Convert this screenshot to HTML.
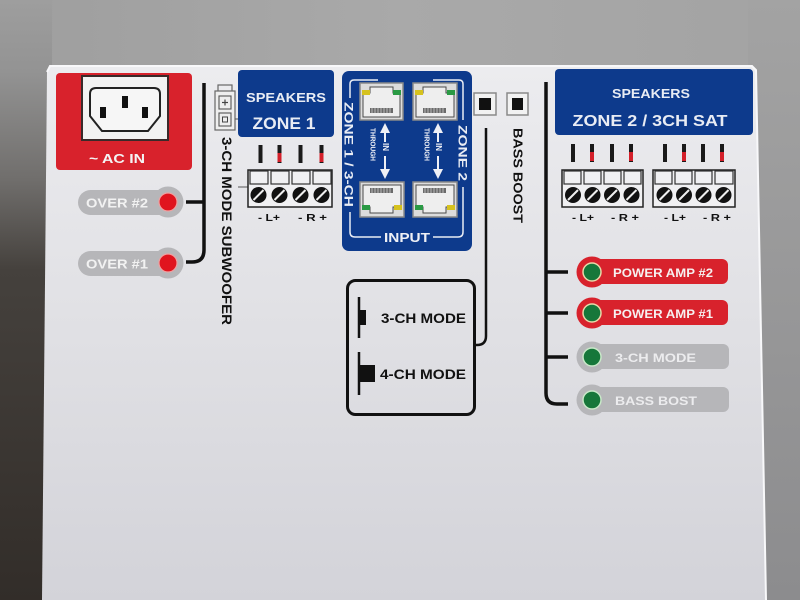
<!DOCTYPE html>
<html><head><meta charset="utf-8"><style>html,body{margin:0;padding:0;width:800px;height:600px;overflow:hidden;background:#a4a4a4}svg{display:block}</style></head><body>
<svg width="800" height="600" viewBox="0 0 800 600" xmlns="http://www.w3.org/2000/svg" font-family="'Liberation Sans', Arial, sans-serif" font-weight="bold">
<defs>
<linearGradient id="bgL" x1="0" y1="0" x2="0" y2="1">
<stop offset="0" stop-color="#9e9e9e"/><stop offset="0.12" stop-color="#939393"/><stop offset="0.3" stop-color="#706e6c"/><stop offset="0.45" stop-color="#45413d"/><stop offset="1" stop-color="#322d29"/></linearGradient>
<linearGradient id="bgR" x1="0" y1="0" x2="0" y2="1">
<stop offset="0" stop-color="#a3a3a3"/><stop offset="1" stop-color="#8c8c8e"/></linearGradient>
<linearGradient id="bgT" x1="0" y1="0" x2="1" y2="0">
<stop offset="0" stop-color="#9e9e9e"/><stop offset="0.5" stop-color="#a9a9a9"/><stop offset="1" stop-color="#a3a3a3"/></linearGradient>
<linearGradient id="panel" x1="0" y1="0" x2="0" y2="1">
<stop offset="0" stop-color="#ececef"/><stop offset="0.5" stop-color="#e0e0e4"/><stop offset="1" stop-color="#d3d3d9"/></linearGradient>
</defs>

<rect x="0" y="0" width="800" height="600" fill="url(#bgT)"/>
<rect x="0" y="0" width="52" height="600" fill="url(#bgL)"/>
<rect x="748" y="0" width="52" height="600" fill="url(#bgR)"/>

<!-- panel -->
<polygon points="47,72 50,66 752,66 756,70 766,600 42,600" fill="url(#panel)"/>
<polyline points="47,72 50,66 752,66 756,70 766,600" fill="none" stroke="#f8f8fa" stroke-width="2"/>

<!-- AC IN -->
<rect x="56" y="73" width="136" height="97" rx="4" fill="#d8222c"/>
<rect x="82" y="76" width="86" height="64" fill="#f2f2f2" stroke="#3a2a2a" stroke-width="2"/>
<path d="M96,88 H154 Q160,88 160,94 V116 L148,131 H102 L90,116 V94 Q90,88 96,88 Z" fill="#f6f6f6" stroke="#222" stroke-width="2"/>
<rect x="122" y="96" width="6" height="12" fill="#111"/>
<rect x="100" y="107" width="6" height="11" fill="#111"/>
<rect x="142" y="107" width="6" height="11" fill="#111"/>
<text x="89" y="163" font-size="13" fill="#f4f4f4" textLength="56" lengthAdjust="spacingAndGlyphs">~ AC IN</text>

<!-- left bracket -->
<path d="M204,83 V250 Q204,262 192,262 H186" fill="none" stroke="#111" stroke-width="3.5"/>
<line x1="186" y1="202" x2="204" y2="202" stroke="#111" stroke-width="3.5"/>

<!-- OVER pills -->
<rect x="78" y="190" width="100" height="25" rx="12.5" fill="#b6b6b9"/>
<circle cx="168" cy="202" r="15.5" fill="#b6b6b9"/>
<circle cx="168" cy="202" r="9" fill="#e0141e" stroke="#f0a0a0" stroke-width="1.2"/>
<text x="86" y="207.5" font-size="13" fill="#f2f2f2" textLength="62" lengthAdjust="spacingAndGlyphs">OVER #2</text>
<rect x="78" y="251" width="100" height="25" rx="12.5" fill="#b6b6b9"/>
<circle cx="168" cy="263" r="15.5" fill="#b6b6b9"/>
<circle cx="168" cy="263" r="9" fill="#e0141e" stroke="#f0a0a0" stroke-width="1.2"/>
<text x="86" y="268.5" font-size="13" fill="#f2f2f2" textLength="62" lengthAdjust="spacingAndGlyphs">OVER #1</text>

<!-- small connector icon -->
<rect x="218" y="85" width="14" height="7" fill="none" stroke="#666" stroke-width="1.2"/>
<rect x="215" y="91" width="20" height="39" fill="#eeeeee" stroke="#666" stroke-width="1.2"/>
<rect x="219" y="96" width="12" height="13" fill="none" stroke="#555" stroke-width="1.1"/>
<line x1="222" y1="102.5" x2="228" y2="102.5" stroke="#444" stroke-width="1.2"/>
<line x1="225" y1="99.5" x2="225" y2="105.5" stroke="#444" stroke-width="1.2"/>
<rect x="219" y="113" width="12" height="13" fill="none" stroke="#555" stroke-width="1.1"/>
<rect x="222.5" y="117" width="5" height="5" fill="none" stroke="#444" stroke-width="1"/>
<line x1="235" y1="119" x2="240" y2="119" stroke="#555" stroke-width="1"/>

<!-- 3-CH MODE SUBWOOFER -->
<g transform="translate(227,137) rotate(90)"><text x="0" y="0" dy="0.36em" font-size="13.5" fill="#111" textLength="188" lengthAdjust="spacingAndGlyphs">3-CH MODE SUBWOOFER</text></g>

<!-- Zone 1 box -->
<rect x="238" y="70" width="96" height="67" rx="4" fill="#0d3a8c"/>
<text x="286" y="102" font-size="12.5" fill="#e8ecf4" text-anchor="middle" textLength="80" lengthAdjust="spacingAndGlyphs">SPEAKERS</text>
<text x="284" y="129" font-size="17" fill="#e8ecf4" text-anchor="middle" textLength="63" lengthAdjust="spacingAndGlyphs">ZONE 1</text>

<!-- Zone 1 terminal -->
<g>
<rect x="258.5" y="145" width="4" height="18" fill="#1a1a1a"/>
<rect x="277.5" y="145" width="4" height="18" fill="#1a1a1a"/><rect x="277.5" y="153" width="4" height="9" fill="#d4202a"/>
<rect x="298.5" y="145" width="4" height="18" fill="#1a1a1a"/>
<rect x="319.5" y="145" width="4" height="18" fill="#1a1a1a"/><rect x="319.5" y="153" width="4" height="9" fill="#d4202a"/>
<line x1="238" y1="187" x2="248" y2="187" stroke="#555" stroke-width="1"/>
<rect x="248" y="170" width="84" height="37" fill="#f0f0f2" stroke="#222" stroke-width="1.5"/>
<rect x="250" y="171" width="18" height="13" fill="none" stroke="#333" stroke-width="1.2"/>
<rect x="271" y="171" width="18" height="13" fill="none" stroke="#333" stroke-width="1.2"/>
<rect x="292" y="171" width="18" height="13" fill="none" stroke="#333" stroke-width="1.2"/>
<rect x="313" y="171" width="18" height="13" fill="none" stroke="#333" stroke-width="1.2"/>
<circle cx="258.5" cy="195" r="8" fill="#111"/><line x1="253.5" y1="200" x2="263.5" y2="190" stroke="#eee" stroke-width="2"/>
<circle cx="279.5" cy="195" r="8" fill="#111"/><line x1="274.5" y1="200" x2="284.5" y2="190" stroke="#eee" stroke-width="2"/>
<circle cx="300.5" cy="195" r="8" fill="#111"/><line x1="295.5" y1="200" x2="305.5" y2="190" stroke="#eee" stroke-width="2"/>
<circle cx="321.5" cy="195" r="8" fill="#111"/><line x1="316.5" y1="200" x2="326.5" y2="190" stroke="#eee" stroke-width="2"/>
<text x="258" y="221" font-size="10.5" fill="#111" textLength="22" lengthAdjust="spacingAndGlyphs">- L+</text>
<text x="298" y="221" font-size="10.5" fill="#111" textLength="29" lengthAdjust="spacingAndGlyphs">- R +</text>
</g>

<!-- INPUT box -->
<rect x="342" y="71" width="130" height="180" rx="7" fill="#0d3a8c"/>
<g fill="none" stroke="#e8ecf4" stroke-width="1.5">
<path d="M350,98 V84 Q350,80 354,80 H378"/>
<path d="M433,80 H459 Q463,80 463,84 V120"/>
<path d="M350,212 V232 Q350,237 355,237 H381"/>
<path d="M463,187 V232 Q463,237 458,237 H433"/>
</g>
<g transform="translate(349,102) rotate(90)"><text x="0" y="0" dy="0.36em" font-size="12" fill="#e8ecf4" textLength="105" lengthAdjust="spacingAndGlyphs">ZONE 1 / 3-CH</text></g>
<g transform="translate(463,125) rotate(90)"><text x="0" y="0" dy="0.36em" font-size="12" fill="#e8ecf4" textLength="56" lengthAdjust="spacingAndGlyphs">ZONE 2</text></g>
<text x="407" y="242" font-size="13" fill="#eef0f6" text-anchor="middle" textLength="46" lengthAdjust="spacingAndGlyphs">INPUT</text>

<!-- ports -->
<g transform="translate(360,83)">
<rect x="0" y="0" width="43" height="37" fill="#dcdcdc" stroke="#8a8a8a" stroke-width="1.5"/>
<path d="M3,10 H10 V4 H33 V10 H40 V34 H3 Z" fill="#eeeeee" stroke="#4a4a4a" stroke-width="1"/>
<rect x="2" y="7" width="8" height="5" fill="#d6c21e"/><rect x="33" y="7" width="8" height="5" fill="#2a9a44"/>
<rect x="10" y="25" width="23" height="5" fill="#6a6a6a"/>
<path d="M12,25V30M15,25V30M18,25V30M21,25V30M24,25V30M27,25V30M30,25V30" stroke="#cfcfcf" stroke-width="0.8"/>
</g>
<g transform="translate(413,83)">
<rect x="0" y="0" width="44" height="37" fill="#dcdcdc" stroke="#8a8a8a" stroke-width="1.5"/>
<path d="M3,10 H10 V4 H33 V10 H41 V34 H3 Z" fill="#eeeeee" stroke="#4a4a4a" stroke-width="1"/>
<rect x="2" y="7" width="8" height="5" fill="#d6c21e"/><rect x="34" y="7" width="8" height="5" fill="#2a9a44"/>
<rect x="10" y="25" width="23" height="5" fill="#6a6a6a"/>
<path d="M12,25V30M15,25V30M18,25V30M21,25V30M24,25V30M27,25V30M30,25V30" stroke="#cfcfcf" stroke-width="0.8"/>
</g>
<g transform="translate(360,217) scale(1,-1)">
<rect x="0" y="0" width="44" height="35" fill="#dcdcdc" stroke="#8a8a8a" stroke-width="1.5"/>
<path d="M3,10 H10 V4 H33 V10 H41 V32 H3 Z" fill="#eeeeee" stroke="#4a4a4a" stroke-width="1"/>
<rect x="2" y="7" width="8" height="5" fill="#2a9a44"/><rect x="34" y="7" width="8" height="5" fill="#d6c21e"/>
<rect x="10" y="24" width="23" height="5" fill="#6a6a6a"/>
<path d="M12,24V29M15,24V29M18,24V29M21,24V29M24,24V29M27,24V29M30,24V29" stroke="#cfcfcf" stroke-width="0.8"/>
</g>
<g transform="translate(413,217) scale(1,-1)">
<rect x="0" y="0" width="44" height="35" fill="#dcdcdc" stroke="#8a8a8a" stroke-width="1.5"/>
<path d="M3,10 H10 V4 H33 V10 H41 V32 H3 Z" fill="#eeeeee" stroke="#4a4a4a" stroke-width="1"/>
<rect x="2" y="7" width="8" height="5" fill="#2a9a44"/><rect x="34" y="7" width="8" height="5" fill="#d6c21e"/>
<rect x="10" y="24" width="23" height="5" fill="#6a6a6a"/>
<path d="M12,24V29M15,24V29M18,24V29M21,24V29M24,24V29M27,24V29M30,24V29" stroke="#cfcfcf" stroke-width="0.8"/>
</g>

<!-- arrows -->
<g fill="#eef0f6" stroke="#eef0f6">
<path d="M385,123 L380,133 H390 Z" stroke="none"/>
<line x1="385" y1="132" x2="385" y2="142" stroke-width="2"/>
<line x1="385" y1="156" x2="385" y2="169" stroke-width="2"/>
<path d="M385,179 L380,169 H390 Z" stroke="none"/>
<path d="M438,123 L433,133 H443 Z" stroke="none"/>
<line x1="438" y1="132" x2="438" y2="142" stroke-width="2"/>
<line x1="438" y1="156" x2="438" y2="169" stroke-width="2"/>
<path d="M438,179 L433,169 H443 Z" stroke="none"/>
</g>
<g transform="translate(386,143) rotate(90)"><text x="0" y="0" dy="0.36em" font-size="8" fill="#eef0f6">IN</text></g>
<g transform="translate(373,128) rotate(90)"><text x="0" y="0" dy="0.36em" font-size="7" fill="#eef0f6" textLength="33" lengthAdjust="spacingAndGlyphs">THROUGH</text></g>
<g transform="translate(439,143) rotate(90)"><text x="0" y="0" dy="0.36em" font-size="8" fill="#eef0f6">IN</text></g>
<g transform="translate(427,128) rotate(90)"><text x="0" y="0" dy="0.36em" font-size="7" fill="#eef0f6" textLength="33" lengthAdjust="spacingAndGlyphs">THROUGH</text></g>

<!-- buttons -->
<rect x="474" y="93" width="22" height="22" fill="#f2f2f2" stroke="#8a8a8a" stroke-width="1.5"/>
<rect x="479" y="98" width="12" height="12" fill="#111"/>
<rect x="507" y="93" width="21" height="22" fill="#f2f2f2" stroke="#8a8a8a" stroke-width="1.5"/>
<rect x="512" y="98" width="11" height="12" fill="#111"/>

<!-- bass boost line and text -->
<path d="M486,128 V336 Q486,345 477,345 H474" fill="none" stroke="#111" stroke-width="2.5"/>
<g transform="translate(518,128) rotate(90)"><text x="0" y="0" dy="0.36em" font-size="13" fill="#111" textLength="95" lengthAdjust="spacingAndGlyphs">BASS BOOST</text></g>

<!-- mode box -->
<rect x="347.5" y="280.5" width="127" height="134" rx="8" fill="none" stroke="#111" stroke-width="3"/>
<line x1="359" y1="297" x2="359" y2="338" stroke="#111" stroke-width="2.5"/>
<rect x="359" y="310" width="7" height="15" fill="#111"/>
<text x="381" y="323" font-size="14" fill="#111" textLength="85" lengthAdjust="spacingAndGlyphs">3-CH MODE</text>
<line x1="359" y1="352" x2="359" y2="395" stroke="#111" stroke-width="2.5"/>
<rect x="359" y="365" width="16" height="17" fill="#111"/>
<text x="380" y="379" font-size="14" fill="#111" textLength="86" lengthAdjust="spacingAndGlyphs">4-CH MODE</text>

<!-- right bracket -->
<path d="M546,82 V393 Q546,404 557,404 H568" fill="none" stroke="#111" stroke-width="3.5"/>
<line x1="546" y1="272" x2="568" y2="272" stroke="#111" stroke-width="3.5"/>
<line x1="546" y1="313" x2="568" y2="313" stroke="#111" stroke-width="3.5"/>
<line x1="546" y1="357" x2="568" y2="357" stroke="#111" stroke-width="3.5"/>

<!-- right speakers box -->
<rect x="555" y="69" width="198" height="66" rx="4" fill="#0d3a8c"/>
<text x="651" y="98" font-size="12.5" fill="#e8ecf4" text-anchor="middle" textLength="78" lengthAdjust="spacingAndGlyphs">SPEAKERS</text>
<text x="650" y="126" font-size="16" fill="#e8ecf4" text-anchor="middle" textLength="155" lengthAdjust="spacingAndGlyphs">ZONE 2 / 3CH SAT</text>

<!-- right terminals -->
<g>
<rect x="571" y="144" width="4" height="18" fill="#1a1a1a"/>
<rect x="590" y="144" width="4" height="18" fill="#1a1a1a"/><rect x="590" y="152" width="4" height="9" fill="#d4202a"/>
<rect x="610" y="144" width="4" height="18" fill="#1a1a1a"/>
<rect x="629" y="144" width="4" height="18" fill="#1a1a1a"/><rect x="629" y="152" width="4" height="9" fill="#d4202a"/>
<rect x="663" y="144" width="4" height="18" fill="#1a1a1a"/>
<rect x="682" y="144" width="4" height="18" fill="#1a1a1a"/><rect x="682" y="152" width="4" height="9" fill="#d4202a"/>
<rect x="701" y="144" width="4" height="18" fill="#1a1a1a"/>
<rect x="720" y="144" width="4" height="18" fill="#1a1a1a"/><rect x="720" y="152" width="4" height="9" fill="#d4202a"/>

<rect x="562" y="170" width="81" height="37" fill="#f0f0f2" stroke="#222" stroke-width="1.5"/>
<rect x="564" y="171" width="17" height="13" fill="none" stroke="#333" stroke-width="1.2"/>
<rect x="584" y="171" width="17" height="13" fill="none" stroke="#333" stroke-width="1.2"/>
<rect x="604" y="171" width="17" height="13" fill="none" stroke="#333" stroke-width="1.2"/>
<rect x="624" y="171" width="17" height="13" fill="none" stroke="#333" stroke-width="1.2"/>
<circle cx="573" cy="195" r="8" fill="#111"/><line x1="568" y1="200" x2="578" y2="190" stroke="#eee" stroke-width="2"/>
<circle cx="592.5" cy="195" r="8" fill="#111"/><line x1="587.5" y1="200" x2="597.5" y2="190" stroke="#eee" stroke-width="2"/>
<circle cx="612" cy="195" r="8" fill="#111"/><line x1="607" y1="200" x2="617" y2="190" stroke="#eee" stroke-width="2"/>
<circle cx="631.5" cy="195" r="8" fill="#111"/><line x1="626.5" y1="200" x2="636.5" y2="190" stroke="#eee" stroke-width="2"/>

<rect x="653" y="170" width="82" height="37" fill="#f0f0f2" stroke="#222" stroke-width="1.5"/>
<rect x="655" y="171" width="17" height="13" fill="none" stroke="#333" stroke-width="1.2"/>
<rect x="675" y="171" width="17" height="13" fill="none" stroke="#333" stroke-width="1.2"/>
<rect x="695" y="171" width="17" height="13" fill="none" stroke="#333" stroke-width="1.2"/>
<rect x="715" y="171" width="18" height="13" fill="none" stroke="#333" stroke-width="1.2"/>
<circle cx="664.5" cy="195" r="8" fill="#111"/><line x1="659.5" y1="200" x2="669.5" y2="190" stroke="#eee" stroke-width="2"/>
<circle cx="684" cy="195" r="8" fill="#111"/><line x1="679" y1="200" x2="689" y2="190" stroke="#eee" stroke-width="2"/>
<circle cx="703.5" cy="195" r="8" fill="#111"/><line x1="698.5" y1="200" x2="708.5" y2="190" stroke="#eee" stroke-width="2"/>
<circle cx="723.5" cy="195" r="8" fill="#111"/><line x1="718.5" y1="200" x2="728.5" y2="190" stroke="#eee" stroke-width="2"/>

<text x="572" y="221" font-size="10.5" fill="#111" textLength="22" lengthAdjust="spacingAndGlyphs">- L+</text>
<text x="611" y="221" font-size="10.5" fill="#111" textLength="28" lengthAdjust="spacingAndGlyphs">- R +</text>
<text x="664" y="221" font-size="10.5" fill="#111" textLength="22" lengthAdjust="spacingAndGlyphs">- L+</text>
<text x="703" y="221" font-size="10.5" fill="#111" textLength="28" lengthAdjust="spacingAndGlyphs">- R +</text>
</g>

<!-- LED pills right -->
<rect x="582" y="259" width="146" height="25" rx="6" fill="#d8222c"/>
<circle cx="592" cy="272" r="15.5" fill="#d8222c"/>
<circle cx="592" cy="272" r="9" fill="#16773a" stroke="#e8d8a8" stroke-width="1.5"/>
<text x="613" y="277" font-size="12" fill="#f6f0f0" textLength="100" lengthAdjust="spacingAndGlyphs">POWER AMP #2</text>

<rect x="582" y="300" width="146" height="25" rx="6" fill="#d8222c"/>
<circle cx="592" cy="313" r="15.5" fill="#d8222c"/>
<circle cx="592" cy="313" r="9" fill="#16773a" stroke="#e8d8a8" stroke-width="1.5"/>
<text x="613" y="318" font-size="12" fill="#f6f0f0" textLength="100" lengthAdjust="spacingAndGlyphs">POWER AMP #1</text>

<rect x="582" y="344" width="147" height="25" rx="6" fill="#b6b6b9"/>
<circle cx="592" cy="357" r="15.5" fill="#b6b6b9"/>
<circle cx="592" cy="357" r="9" fill="#16773a" stroke="#c8e8c8" stroke-width="1.5"/>
<text x="615" y="362" font-size="12" fill="#ececee" textLength="81" lengthAdjust="spacingAndGlyphs">3-CH MODE</text>

<rect x="582" y="387" width="147" height="25" rx="6" fill="#b6b6b9"/>
<circle cx="592" cy="400" r="15.5" fill="#b6b6b9"/>
<circle cx="592" cy="400" r="9" fill="#16773a" stroke="#c8e8c8" stroke-width="1.5"/>
<text x="615" y="405" font-size="12" fill="#ececee" textLength="82" lengthAdjust="spacingAndGlyphs">BASS BOST</text>
</svg>
</body></html>
